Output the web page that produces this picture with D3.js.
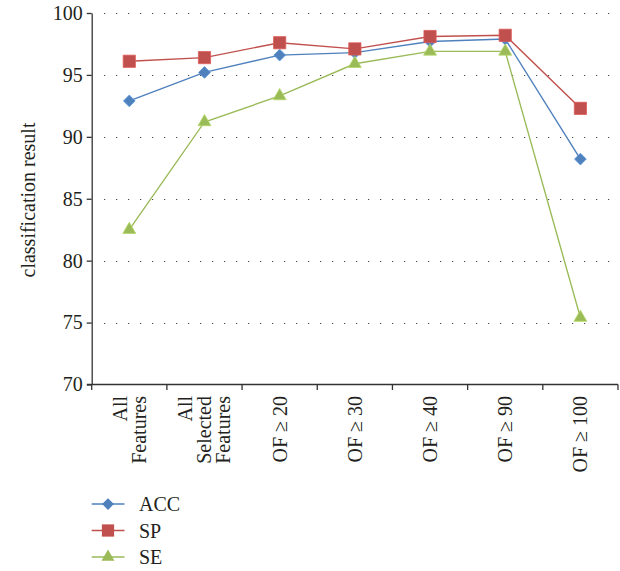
<!DOCTYPE html>
<html>
<head>
<meta charset="utf-8">
<script src="https://cdn.jsdelivr.net/npm/d3@7"></script>
<style>
  html, body { margin: 0; padding: 0; background: #fff; }
  svg { display: block; }
</style>
</head>
<body>
<svg id="chart" width="620" height="571"></svg>
<script>
// Feature-set categories (each entry is a list of label lines)
const categories = [
  ["All", "Features"],
  ["All", "Selected", "Features"],
  ["OF \u2265 20"],
  ["OF \u2265 30"],
  ["OF \u2265 40"],
  ["OF \u2265 90"],
  ["OF \u2265 100"]
];
const accValues = [92.9, 95.2, 96.6, 96.8, 97.7, 97.9, 88.2];
const spValues  = [96.1, 96.4, 97.6, 97.1, 98.1, 98.2, 92.3];
const seValues  = [82.5, 91.2, 93.3, 95.9, 96.9, 96.9, 75.4];
const yTicks = [70, 75, 80, 85, 90, 95, 100];
const seriesNames = ["ACC", "SP", "SE"];

const FONT = "'Liberation Serif', 'Times New Roman', Times, 'DejaVu Serif', serif";
const INK = "#231f20";

const series = [
  { name: seriesNames[0], values: accValues, color: "#4f81bd", symbol: d3.symbolDiamond2, size: 88 },
  { name: seriesNames[1], values: spValues,  color: "#c0504d", symbol: d3.symbolSquare2,  size: 190 },
  { name: seriesNames[2], values: seValues,  color: "#9bbb59", symbol: d3.symbolTriangle2, size: 120 }
];

const svg = d3.select("#chart").attr("font-family", FONT);
const catKeys = categories.map((c, i) => i);

const x = d3.scaleBand().domain(catKeys).range([91.7, 618]);
const y = d3.scaleLinear().domain([70, 100]).range([384.5, 13]);

// dotted horizontal gridlines
svg.append("g")
  .selectAll("line")
  .data(yTicks.filter(t => t !== 70))
  .join("line")
  .attr("x1", 104).attr("x2", 620)
  .attr("y1", d => Math.round(y(d)) + 0.5).attr("y2", d => Math.round(y(d)) + 0.5)
  .attr("stroke", "#444")
  .attr("stroke-width", 1.2)
  .attr("stroke-dasharray", "1.2 10.8");

// y axis
const yAxis = svg.append("g")
  .attr("transform", "translate(91.7,0)")
  .call(d3.axisLeft(y).tickValues(yTicks).tickSize(5).tickPadding(4).tickSizeOuter(0));
yAxis.attr("font-family", FONT).attr("font-size", 20);
yAxis.select(".domain").attr("stroke", "#333").attr("stroke-width", 1.3);
yAxis.selectAll(".tick line").attr("stroke", "#333").attr("stroke-width", 1.3);
yAxis.selectAll(".tick text").attr("fill", INK);

// x axis (ticks on category boundaries)
const xBase = svg.append("g");
xBase.append("line")
  .attr("x1", 87).attr("x2", 618)
  .attr("y1", 384.5).attr("y2", 384.5)
  .attr("stroke", "#333").attr("stroke-width", 1.3);
xBase.selectAll("line.tk")
  .data(catKeys.concat([categories.length]))
  .join("line")
  .attr("class", "tk")
  .attr("x1", d => d < categories.length ? x(d) : x.range()[1])
  .attr("x2", d => d < categories.length ? x(d) : x.range()[1])
  .attr("y1", 384.5).attr("y2", 390)
  .attr("stroke", "#333").attr("stroke-width", 1.3);

// rotated multi-line category labels
const lineH = 19;
const lbl = svg.append("g").selectAll("g")
  .data(categories)
  .join("g")
  .attr("transform", (d, i) => `translate(${x(i) + x.bandwidth() / 2},396) rotate(-90)`);
lbl.append("text")
  .attr("text-anchor", "end")
  .attr("font-family", FONT)
  .attr("font-size", 20)
  .attr("fill", INK)
  .selectAll("tspan")
  .data(d => d.map((t, j) => ({ t, off: (j - (d.length - 1) / 2) * lineH })))
  .join("tspan")
  .attr("x", 0)
  .attr("y", d => d.off)
  .attr("dy", "0.35em")
  .text(d => d.t);

// y axis title
svg.append("text")
  .attr("transform", "translate(28,200) rotate(-90)")
  .attr("text-anchor", "middle")
  .attr("dy", "0.35em")
  .attr("font-family", FONT)
  .attr("font-size", 20)
  .attr("fill", INK)
  .text("classification result");

// series lines and markers
const line = d3.line()
  .x((d, i) => x(i) + x.bandwidth() / 2)
  .y(d => y(d));

series.forEach(s => {
  svg.append("path")
    .datum(s.values)
    .attr("d", line)
    .attr("fill", "none")
    .attr("stroke", s.color)
    .attr("stroke-width", 1.4);
});
series.forEach(s => {
  svg.append("g")
    .selectAll("path")
    .data(s.values)
    .join("path")
    .attr("transform", (d, i) => `translate(${x(i) + x.bandwidth() / 2},${y(d)})`)
    .attr("d", d3.symbol(s.symbol, s.size))
    .attr("fill", s.color)
    .attr("stroke", d3.color(s.color).brighter(0.4))
    .attr("stroke-width", 0.8);
});

// legend
const legend = svg.append("g").selectAll("g")
  .data(series)
  .join("g")
  .attr("transform", (d, i) => `translate(0,${504 + i * 26.5})`);
legend.append("line")
  .attr("x1", 91.7).attr("x2", 124.5)
  .attr("stroke", d => d.color).attr("stroke-width", 1.4);
legend.append("path")
  .attr("transform", "translate(108,0)")
  .attr("d", d => d3.symbol(d.symbol, d.size)())
  .attr("fill", d => d.color);
legend.append("text")
  .attr("x", 139)
  .attr("dy", "0.35em")
  .attr("font-family", FONT)
  .attr("font-size", 20)
  .attr("fill", INK)
  .text(d => d.name);
</script>
</body>
</html>
